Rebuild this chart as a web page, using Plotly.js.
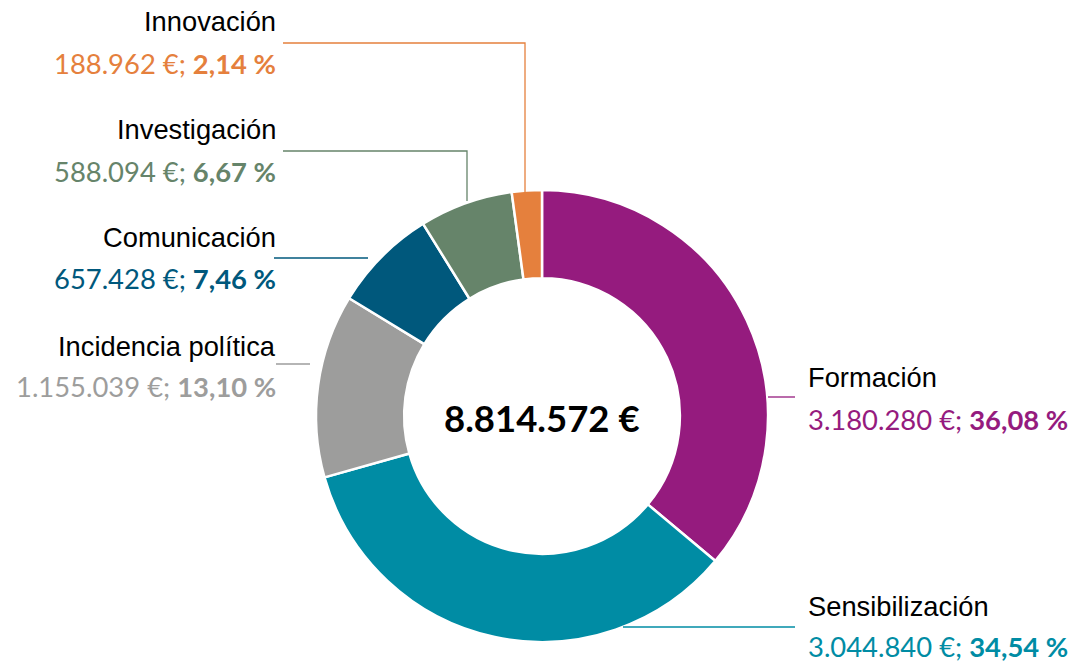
<!DOCTYPE html>
<html>
<head>
<meta charset="utf-8">
<script src="https://cdn.plot.ly/plotly-3.0.1.min.js"></script>
<style>html,body{margin:0;padding:0;background:#fff;}#chart{width:1073px;height:663px;}</style>
</head>
<body>
<div id="chart"></div>
<script>
// Data
const categories = ["Formación", "Sensibilización", "Incidencia política", "Comunicación", "Investigación", "Innovación"];
const amounts = [3180280, 3044840, 1155039, 657428, 588094, 188962];
const amountLabels = ["3.180.280 €", "3.044.840 €", "1.155.039 €", "657.428 €", "588.094 €", "188.962 €"];
const percentLabels = ["36,08 %", "34,54 %", "13,10 %", "7,46 %", "6,67 %", "2,14 %"];
const colors = ["#951B7E", "#008CA4", "#9D9D9C", "#00587C", "#66846A", "#E5803D"];
const totalLabel = "8.814.572 €";

const W = 1073, H = 663;
const px = x => x / W;
const py = y => 1 - y / H;

// label layout (pixel positions of label text blocks and leader lines)
const labelPos = {
  "Formación":          {side: "right", x: 807, yLabel: 377, yValue: 419, line: [[768, 397], [795, 397]]},
  "Sensibilización":    {side: "right", x: 807, yLabel: 606, yValue: 646, line: [[623, 627], [795, 627]]},
  "Incidencia política":{side: "left",  x: 277, yLabel: 346, yValue: 386, line: [[276, 364], [310, 364]]},
  "Comunicación":       {side: "left",  x: 277, yLabel: 237, yValue: 278, line: [[274, 258], [368, 258]]},
  "Investigación":      {side: "left",  x: 277, yLabel: 130, yValue: 172, line: [[283, 151], [467, 151], [467, 201]]},
  "Innovación":         {side: "left",  x: 277, yLabel: 21,  yValue: 64,  line: [[283, 43], [525, 43], [525, 192]]}
};

const cx = 542, cy = 416, R = 226;

const trace = {
  type: "pie",
  labels: categories,
  values: amounts,
  sort: false,
  direction: "clockwise",
  rotation: 0,
  hole: 0.61,
  textinfo: "none",
  hoverinfo: "label+value",
  marker: {colors: colors, line: {color: "#ffffff", width: 2.5}},
  domain: {x: [px(cx - R), px(cx + R)], y: [py(cy + R), py(cy - R)]},
  showlegend: false
};

const annotations = [];
const shapes = [];
categories.forEach((c, i) => {
  const p = labelPos[c];
  const anchor = p.side === "right" ? "left" : "right";
  annotations.push({
    xref: "paper", yref: "paper", x: px(p.x), y: py(p.yLabel),
    xanchor: anchor, yanchor: "middle", showarrow: false, borderpad: 0,
    text: c, font: {family: "Liberation Sans, Arial, sans-serif", size: 27.3, color: "#000000"}
  });
  annotations.push({
    xref: "paper", yref: "paper", x: px(p.x), y: py(p.yValue),
    xanchor: anchor, yanchor: "middle", showarrow: false, borderpad: 0,
    text: amountLabels[i] + "; <b>" + percentLabels[i] + "</b>",
    font: {family: "Lato, sans-serif", size: 27.4, color: colors[i]}
  });
  let path = "";
  p.line.forEach((pt, k) => {
    path += (k === 0 ? "M" : "L") + px(pt[0]) + "," + py(pt[1]);
  });
  shapes.push({type: "path", xref: "paper", yref: "paper", path: path,
    line: {color: colors[i], width: 1.3}});
});

annotations.push({
  xref: "paper", yref: "paper", x: px(cx), y: py(418),
  xanchor: "center", yanchor: "middle", showarrow: false,
  text: "<b>" + totalLabel + "</b>",
  font: {family: "Lato, sans-serif", size: 36.5, color: "#000000"}
});

const layout = {
  width: W, height: H,
  margin: {l: 0, r: 0, t: 0, b: 0},
  paper_bgcolor: "#ffffff",
  plot_bgcolor: "#ffffff",
  annotations: annotations,
  shapes: shapes
};

Plotly.newPlot("chart", [trace], layout, {displayModeBar: false, staticPlot: true});
</script>
</body>
</html>
